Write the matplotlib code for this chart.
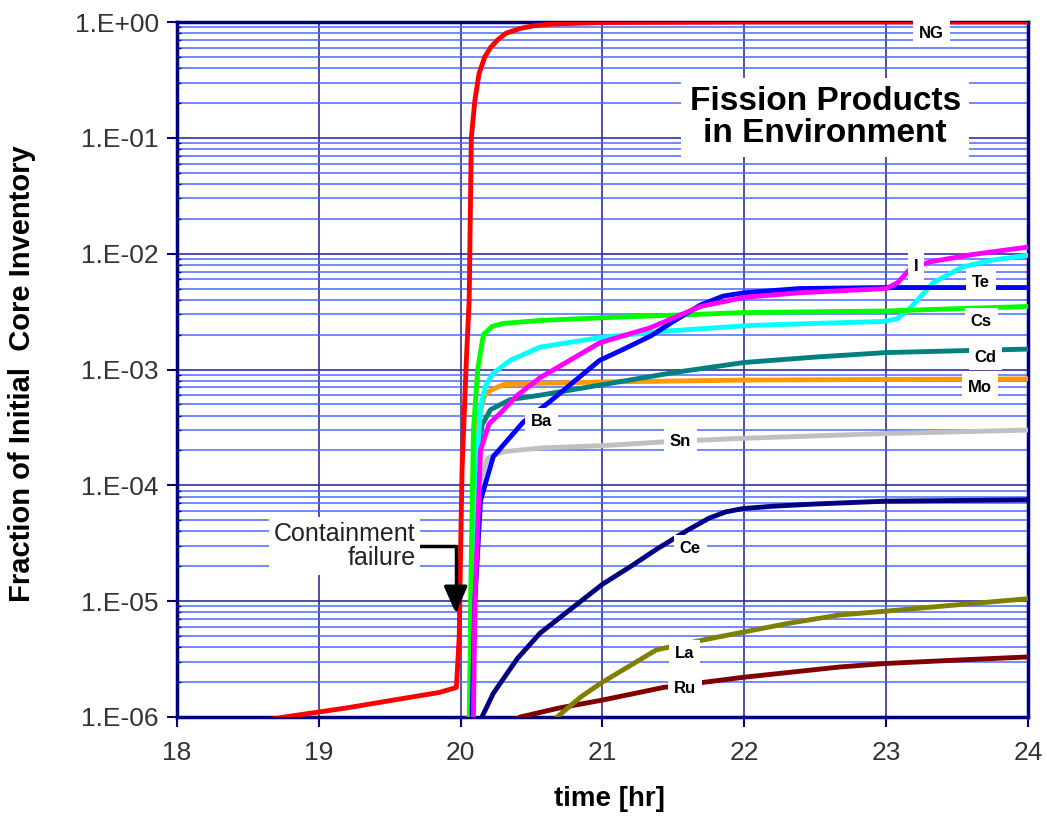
import numpy as np
import matplotlib
matplotlib.use("Agg")
import matplotlib.pyplot as plt
from matplotlib.ticker import FixedLocator, FuncFormatter, NullFormatter

plt.rcParams['font.family'] = ['Liberation Sans', 'DejaVu Sans']

# time [hr] and fraction of initial core inventory
t_ng = [18.0, 18.76, 19.2, 19.6, 19.85, 19.97, 19.99, 20.0, 20.01, 20.04, 20.06, 20.075,
        20.1, 20.13, 20.17, 20.21, 20.26, 20.32, 20.42, 20.52, 20.65, 21.0, 22.0, 24.0]
v_ng = [7e-7, 1.0e-6, 1.2e-6, 1.45e-6, 1.63e-6, 1.8e-6, 5e-6, 3e-5, 1.4e-4, 1.2e-3, 4e-3, 0.1,
        0.21, 0.36, 0.5, 0.6, 0.7, 0.8, 0.88, 0.93, 0.96, 0.99, 1.0, 1.0]

t_i = [20.08, 20.1, 20.14, 20.2, 20.28, 20.4, 20.56, 20.98, 21.34, 21.69, 22.0, 22.39, 23.0,
       23.08, 23.17, 23.31, 23.6, 24.0]
v_i = [1e-7, 1e-5, 2e-4, 3.4e-4, 4.2e-4, 6e-4, 8.5e-4, 1.7e-3, 2.3e-3, 3.5e-3, 4.2e-3, 4.6e-3, 5.0e-3,
       5.6e-3, 7.4e-3, 8.5e-3, 9.8e-3, 1.14e-2]

t_ba = [20.06, 20.08, 20.10, 20.14, 20.23, 20.44, 20.63, 20.98, 21.15, 21.34, 21.5, 21.69, 21.85, 22.0,
        22.39, 23.0, 24.0]
v_ba = [1e-7, 1e-6, 1e-5, 7.4e-5, 1.77e-4, 3.5e-4, 5.3e-4, 1.2e-3, 1.5e-3, 1.95e-3, 2.6e-3, 3.6e-3,
        4.3e-3, 4.6e-3, 5.0e-3, 5.1e-3, 5.1e-3]

t_cs = [20.06, 20.07, 20.09, 20.12, 20.16, 20.22, 20.3, 20.56, 21.0, 22.0, 23.0, 23.5, 24.0]
v_cs = [1e-7, 1e-5, 3e-4, 1e-3, 2.0e-3, 2.35e-3, 2.5e-3, 2.65e-3, 2.8e-3, 3.1e-3, 3.2e-3, 3.35e-3, 3.5e-3]

t_cyan = [20.07, 20.09, 20.12, 20.14, 20.18, 20.23, 20.35, 20.56, 21.0, 21.46, 22.04, 22.5, 22.98,
          23.08, 23.17, 23.33, 23.54, 23.75, 24.0]
v_cyan = [1e-7, 1e-5, 2e-4, 4.8e-4, 7.5e-4, 9.3e-4, 1.2e-3, 1.56e-3, 1.9e-3, 2.15e-3, 2.4e-3, 2.5e-3, 2.6e-3,
          2.75e-3, 3.4e-3, 5.6e-3, 7.7e-3, 8.8e-3, 9.7e-3]

t_cd = [20.06, 20.07, 20.10, 20.15, 20.21, 20.35, 20.56, 21.0, 21.5, 22.0, 22.5, 23.0, 23.5, 24.0]
v_cd = [1e-7, 1e-6, 1e-4, 3.3e-4, 4.5e-4, 5.5e-4, 6e-4, 7.4e-4, 9.4e-4, 1.15e-3, 1.28e-3, 1.4e-3, 1.45e-3, 1.5e-3]

t_mo = [20.05, 20.06, 20.09, 20.13, 20.17, 20.21, 20.3, 20.56, 21.0, 22.0, 23.0, 24.0]
v_mo = [1e-7, 1e-6, 1.4e-4, 4e-4, 6e-4, 6.6e-4, 7.4e-4, 7.6e-4, 7.8e-4, 8.1e-4, 8.2e-4, 8.3e-4]

t_sn = [20.07, 20.08, 20.11, 20.15, 20.19, 20.22, 20.3, 20.56, 21.0, 21.5, 22.0, 23.0, 24.0]
v_sn = [1e-7, 1e-6, 4e-5, 1.2e-4, 1.7e-4, 1.8e-4, 1.95e-4, 2.1e-4, 2.2e-4, 2.4e-4, 2.55e-4, 2.8e-4, 3.0e-4]

t_ce = [20.14, 20.15, 20.23, 20.4, 20.56, 20.8, 21.0, 21.2, 21.38, 21.6, 21.75, 21.87, 21.99, 22.2, 22.5,
        23.0, 24.0]
v_ce = [8e-7, 1e-6, 1.6e-6, 3.2e-6, 5.3e-6, 9e-6, 1.4e-5, 2e-5, 2.8e-5, 4.1e-5, 5.2e-5, 5.9e-5, 6.3e-5,
        6.6e-5, 6.9e-5, 7.3e-5, 7.5e-5]

t_la = [20.65, 20.68, 20.85, 21.0, 21.2, 21.38, 21.7, 21.99, 22.3, 22.67, 23.0, 23.5, 24.0]
v_la = [8e-7, 1e-6, 1.5e-6, 2e-6, 2.8e-6, 3.8e-6, 4.6e-6, 5.4e-6, 6.4e-6, 7.6e-6, 8.2e-6, 9.3e-6, 1.05e-5]

t_ru = [20.35, 20.42, 20.7, 21.0, 21.43, 21.99, 22.67, 23.0, 23.5, 24.0]
v_ru = [9e-7, 1e-6, 1.2e-6, 1.4e-6, 1.8e-6, 2.2e-6, 2.7e-6, 2.9e-6, 3.1e-6, 3.3e-6]

x_ticks = [18, 19, 20, 21, 22, 23, 24]
y_decades = [-6, -5, -4, -3, -2, -1, 0]

series = [
    (t_ru, v_ru, '#800000'),
    (t_la, v_la, '#808000'),
    (t_ce, v_ce, '#000080'),
    (t_sn, v_sn, '#c0c0c0'),
    (t_mo, v_mo, '#ff9900'),
    (t_cd, v_cd, '#008080'),
    (t_cyan, v_cyan, '#00ffff'),
    (t_cs, v_cs, '#00ff00'),
    (t_ba, v_ba, '#0000ff'),
    (t_i, v_i, '#ff00ff'),
    (t_ng, v_ng, '#ff0000'),
]

# curve labels (text, time, value)
curve_labels = [
    ('NG', 23.32, 0.80),
    ('I', 23.21, 7.7e-3),
    ('Te', 23.67, 5.6e-3),
    ('Cs', 23.67, 2.62e-3),
    ('Cd', 23.70, 1.28e-3),
    ('Mo', 23.66, 7.05e-4),
    ('Ba', 20.57, 3.58e-4),
    ('Sn', 21.55, 2.41e-4),
    ('Ce', 21.62, 2.87e-5),
    ('La', 21.58, 3.56e-6),
    ('Ru', 21.58, 1.77e-6),
]

navy = '#000080'

fig = plt.figure(figsize=(10.47, 8.25), dpi=100)
ax = fig.add_axes([177 / 1047, 1 - 717 / 825, (1028 - 177) / 1047, (717 - 22) / 825])

for t, v, c in series:
    ax.plot(t, v, color=c, lw=3.5, solid_joinstyle='round', solid_capstyle='round', zorder=3)

ax.set_yscale('log')
ax.set_xlim(18, 24)
ax.set_ylim(1e-6, 1.0)

major_y = [10.0 ** d for d in y_decades]
minor_y = [m * 10.0 ** d for d in y_decades[:-1] for m in range(2, 10)]
ax.xaxis.set_major_locator(FixedLocator(x_ticks))
ax.yaxis.set_major_locator(FixedLocator(major_y))
ax.yaxis.set_minor_locator(FixedLocator(minor_y))
ax.yaxis.set_minor_formatter(NullFormatter())
ax.yaxis.set_major_formatter(FuncFormatter(lambda v, p: "1.E%+03d" % int(round(np.log10(v)))))

ax.grid(which='major', axis='both', color='#30309a', lw=1.2, zorder=1)
ax.grid(which='minor', axis='y', color='#4a6aff', lw=1.1, zorder=1)
ax.set_axisbelow(True)

for s in ax.spines.values():
    s.set_color(navy)
    s.set_linewidth(2.5)

ax.tick_params(which='major', direction='out', length=7, width=1.5, color=navy,
               labelsize=19, labelcolor='#333333', pad=6)
ax.tick_params(which='minor', direction='in', length=3, width=1.0, color=navy)
ax.tick_params(axis='x', pad=10)

ax.set_xlabel('time [hr]', fontsize=20, fontweight='bold')
ax.set_ylabel('Fraction of Initial  Core Inventory', fontsize=21, fontweight='bold')
ax.xaxis.set_label_coords(0.508, -0.100)
ax.yaxis.set_label_coords(-0.166, 0.494)

for txt, t, v in curve_labels:
    ax.text(t, v, txt, fontsize=12, fontweight='bold', ha='center', va='center', zorder=6,
            bbox=dict(boxstyle='square,pad=0.35', fc='white', ec='none'))

ax.text(22.57, 0.15, 'Fission Products\nin Environment', fontsize=24, fontweight='bold',
        ha='center', va='center', linespacing=1.05, zorder=6,
        bbox=dict(boxstyle='square,pad=0.25', fc='white', ec='none'))

ax.annotate('Containment\nfailure', xy=(19.965, 7.9e-6), xytext=(19.68, 3.0e-5),
            fontsize=18, color='#222222', ha='right', va='center', multialignment='right',
            linespacing=1.0, zorder=6, bbox=dict(boxstyle='square,pad=0.2', fc='white', ec='none'),
            arrowprops=dict(arrowstyle='-|>,head_length=0.9,head_width=0.4', color='black', lw=2.5,
                            connectionstyle='angle,angleA=0,angleB=90,rad=0',
                            relpos=(1.0, 0.5), shrinkA=0, shrinkB=0))

fig.savefig('out.png', dpi=100)
